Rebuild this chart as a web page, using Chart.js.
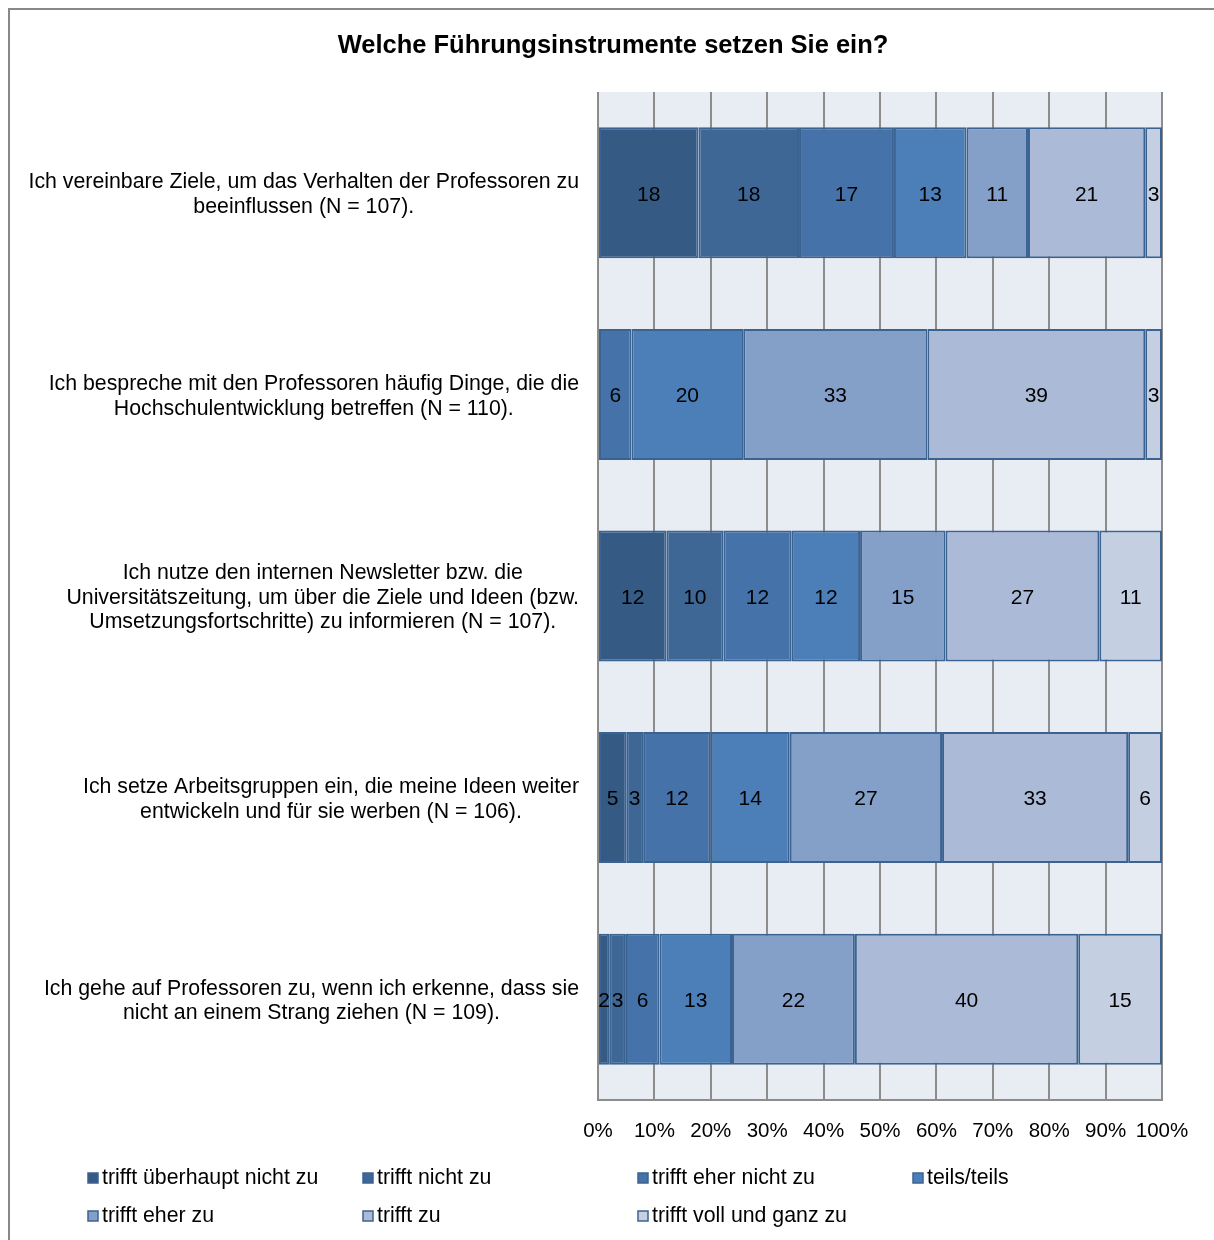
<!DOCTYPE html>
<html>
<head>
<meta charset="utf-8">
<script src="https://cdn.jsdelivr.net/npm/chart.js@4.4.1/dist/chart.umd.min.js"></script>
<style>
  body { margin: 0; background: #fff; overflow: hidden; }
  #frame { position: absolute; left: 8px; top: 8px; width: 1230px; height: 1260px; border: 2px solid #888; }
  #chart { position: absolute; left: 0; top: 0; }
</style>
</head>
<body>
<div id="frame"></div>
<canvas id="chart" width="1214" height="1240"></canvas>
<script>
// Sample Data
const title = 'Welche Führungsinstrumente setzen Sie ein?';
const statements = [
    ['Ich vereinbare Ziele, um das Verhalten der Professoren zu', 'beeinflussen (N = 107).'],
    ['Ich bespreche mit den Professoren häufig Dinge, die die', 'Hochschulentwicklung betreffen (N = 110).'],
    ['Ich nutze den internen Newsletter bzw. die', 'Universitätszeitung, um über die Ziele und Ideen (bzw.', 'Umsetzungsfortschritte) zu informieren (N = 107).'],
    ['Ich setze Arbeitsgruppen ein, die meine Ideen weiter', 'entwickeln und für sie werben (N = 106).'],
    ['Ich gehe auf Professoren zu, wenn ich erkenne, dass sie', 'nicht an einem Strang ziehen (N = 109).']
];
const answers = ['trifft überhaupt nicht zu', 'trifft nicht zu', 'trifft eher nicht zu', 'teils/teils',
    'trifft eher zu', 'trifft zu', 'trifft voll und ganz zu'];

// percent per answer, one value per statement
const gar_nicht = [18, null, 12, 5, 2];
const nicht = [18, null, 10, 3, 3];
const eher_nicht = [17, 6, 12, 12, 6];
const teils = [13, 20, 12, 14, 13];
const eher_zu = [11, 33, 15, 27, 22];
const zu = [21, 39, 27, 33, 40];
const voll = [3, 3, 11, 6, 15];
const xTicks = [0, 10, 20, 30, 40, 50, 60, 70, 80, 90, 100];

const series = [gar_nicht, nicht, eher_nicht, teils, eher_zu, zu, voll];
const colors = ['#355a84', '#3e6796', '#4572a8', '#4c7eb8', '#84a0c9', '#abbad6', '#c5cfe2'];
const edge = '#3b6392';
const font = 'Arial, "Liberation Sans", sans-serif';

// rows do not add up to exactly 100 (rounding), so scale each row to 100%
const rowSums = statements.map((s, i) => series.reduce((a, d) => a + (d[i] || 0), 0));

const plotBg = {
    id: 'plotBg',
    beforeDraw(chart) {
        const a = chart.chartArea, ctx = chart.ctx;
        ctx.save();
        ctx.fillStyle = '#e8ecf3';
        ctx.fillRect(a.left, a.top, a.right - a.left, a.bottom - a.top);
        ctx.restore();
    }
};

const extras = {
    id: 'extras',
    afterDatasetsDraw(chart) {
        const ctx = chart.ctx;
        ctx.save();
        ctx.fillStyle = '#000';
        ctx.textBaseline = 'middle';

        // values inside the bars
        ctx.font = '21px ' + font;
        ctx.textAlign = 'center';
        chart.data.datasets.forEach((ds, di) => {
            chart.getDatasetMeta(di).data.forEach((el, i) => {
                const v = ds.raw[i];
                if (v == null) return;
                ctx.fillText(String(v), (el.x + el.base) / 2, el.y + 2);
            });
        });

        // statements on the left: block right aligned, lines centred
        ctx.font = '21.3px ' + font;
        const yScale = chart.scales.y;
        statements.forEach((lines, i) => {
            const w = Math.max(...lines.map(l => ctx.measureText(l).width));
            const cx = 579 - w / 2;
            const cy = yScale.getPixelForValue(i);
            const lh = 24.5;
            lines.forEach((l, k) => {
                ctx.fillText(l, cx, cy + 2 + (k - (lines.length - 1) / 2) * lh);
            });
        });

        // title
        ctx.font = 'bold 25.5px ' + font;
        ctx.fillText(title, 613, 46);

        // legend, 4 columns
        ctx.font = '21.3px ' + font;
        ctx.textAlign = 'left';
        answers.forEach((a, i) => {
            const x = 88 + (i % 4) * 275;
            const y = 1178 + Math.floor(i / 4) * 38;
            ctx.fillStyle = colors[i];
            ctx.fillRect(x, y - 5, 10, 10);
            ctx.strokeStyle = edge;
            ctx.lineWidth = 1.5;
            ctx.strokeRect(x, y - 5, 10, 10);
            ctx.fillStyle = '#000';
            ctx.fillText(a, x + 14, y);
        });
        ctx.restore();
    }
};

new Chart(document.getElementById('chart'), {
    type: 'bar',
    data: {
        labels: statements,
        datasets: answers.map((a, i) => ({
            label: a,
            raw: series[i],
            data: series[i].map((v, r) => v == null ? null : v / rowSums[r] * 100),
            backgroundColor: colors[i],
            borderColor: edge,
            borderWidth: 2,
            borderSkipped: false,
            categoryPercentage: 1,
            barPercentage: 0.65
        }))
    },
    options: {
        indexAxis: 'y',
        responsive: false,
        animation: false,
        devicePixelRatio: 1,
        layout: {
            padding: { left: 598, right: 52, top: 92, bottom: 100 }
        },
        scales: {
            x: {
                stacked: true,
                min: 0,
                max: 100,
                afterFit(scale) { scale.height = 40; },
                afterBuildTicks(scale) { scale.ticks = xTicks.map(v => ({ value: v })); },
                grid: { color: '#8c8c8c', lineWidth: 2, drawTicks: false },
                border: { display: true, color: '#8c8c8c', width: 2 },
                ticks: {
                    padding: 19,
                    color: '#000',
                    maxRotation: 0,
                    minRotation: 0,
                    autoSkip: false,
                    font: { size: 20.5, family: font },
                    callback: v => v + '%'
                }
            },
            y: {
                stacked: true,
                display: false
            }
        },
        plugins: {
            legend: { display: false },
            tooltip: { enabled: false }
        }
    },
    plugins: [plotBg, extras]
});
</script>
</body>
</html>
